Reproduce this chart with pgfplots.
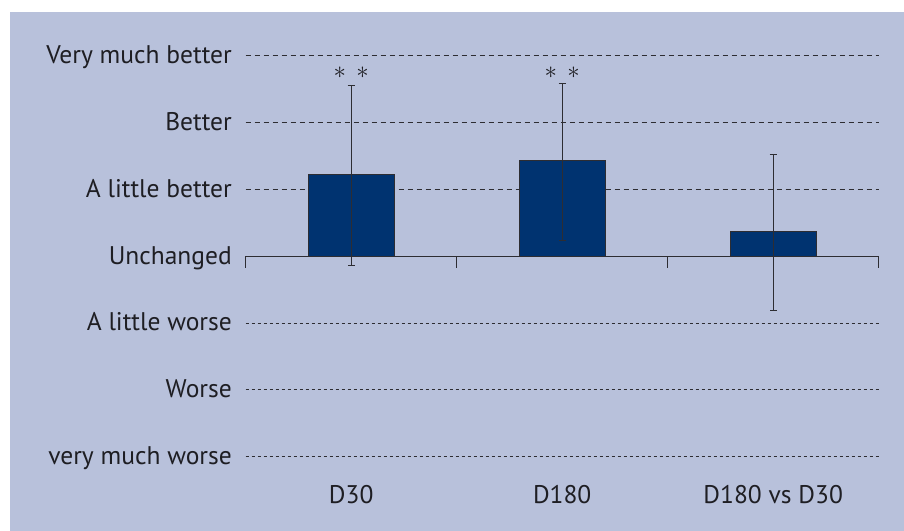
\documentclass[border=0pt]{standalone}
\usepackage{fontspec}
\setmainfont{PT Sans}
\usepackage{pgfplots}
\pgfplotsset{compat=1.18}
\definecolor{bgcol}{RGB}{184,193,219}
\definecolor{barblue}{RGB}{0,51,112}
\definecolor{linegray}{RGB}{45,45,50}
\definecolor{txt}{RGB}{30,30,35}
\tikzset{astk/.style={font=\fontsize{48bp}{50bp}\selectfont, text=txt, inner sep=0pt}}
\begin{document}
\begin{tikzpicture}
\fill[white] (-245.7bp,-74.2bp) rectangle (658.3bp,456.8bp);
\fill[bgcol] (-235.7bp,-74.2bp) rectangle (658.3bp,444.8bp);
\begin{axis}[
  at={(0,0)}, anchor=south west,
  x=211bp, y=66.9bp,
  xmin=-0.5, xmax=2.5, ymin=-3, ymax=3,
  clip=false,
  axis line style={draw=none},
  major tick length=0pt,
  font=\fontsize{25.5bp}{29bp}\selectfont,
  tick label style={text=txt},
  xtick={0,1,2},
  xticklabels={D30,D180,D180 vs D30},
  xticklabel style={anchor=north, inner sep=0pt, text height=0.7em, text depth=0pt, yshift=-40bp},
  ytick={0,1,2,3},
  yticklabels={Unchanged,A little better,Better,Very much better},
  extra y ticks={-3,-2,-1},
  extra y tick labels={very much worse,Worse,A little worse},
  extra y tick style={major grid style={linegray, line width=0.9bp, dash pattern=on 3.5bp off 2.5bp}},
  yticklabel style={anchor=east, inner sep=0pt, text height=0.7em, text depth=0pt, xshift=-13.7bp, yshift=-4.5bp},
  ymajorgrids,
  major grid style={linegray, line width=0.9bp, dash pattern=on 5bp off 4bp},
]
% bars with asymmetric error bars
\addplot[ybar, bar width=86bp, fill=barblue, draw=linegray, line width=0.8bp,
  error bars/.cd, y dir=both, y explicit,
  error bar style={linegray, line width=0.9bp},
  error mark options={rotate=90, mark size=3.5bp, line width=0.9bp, linegray}]
  coordinates {
  (0,1.22) += (0,1.335) -= (0,1.36)
  (1,1.43) += (0,1.156) -= (0,1.19)
  (2,0.368) += (0,1.146) -= (0,1.181)
  };
% zero line
\addplot[linegray, line width=1bp] coordinates {(-0.5,0) (2.5,0)};
% tick marks on the zero line
\addplot[ycomb, linegray, line width=1bp, mark=none] coordinates {(-0.5,-0.18) (0.5,-0.18) (1.5,-0.18) (2.5,-0.18)};
% significance asterisks
\node[astk, xshift=-11.3bp] at (axis cs:0,2.735) {$\ast$};
\node[astk, xshift=11.3bp] at (axis cs:0,2.735) {$\ast$};
\node[astk, xshift=-11.3bp] at (axis cs:1,2.735) {$\ast$};
\node[astk, xshift=11.3bp] at (axis cs:1,2.735) {$\ast$};
\end{axis}
\pgfresetboundingbox
\path (-245.7bp,-74.2bp) rectangle (658.3bp,456.8bp);
\end{tikzpicture}
\end{document}
